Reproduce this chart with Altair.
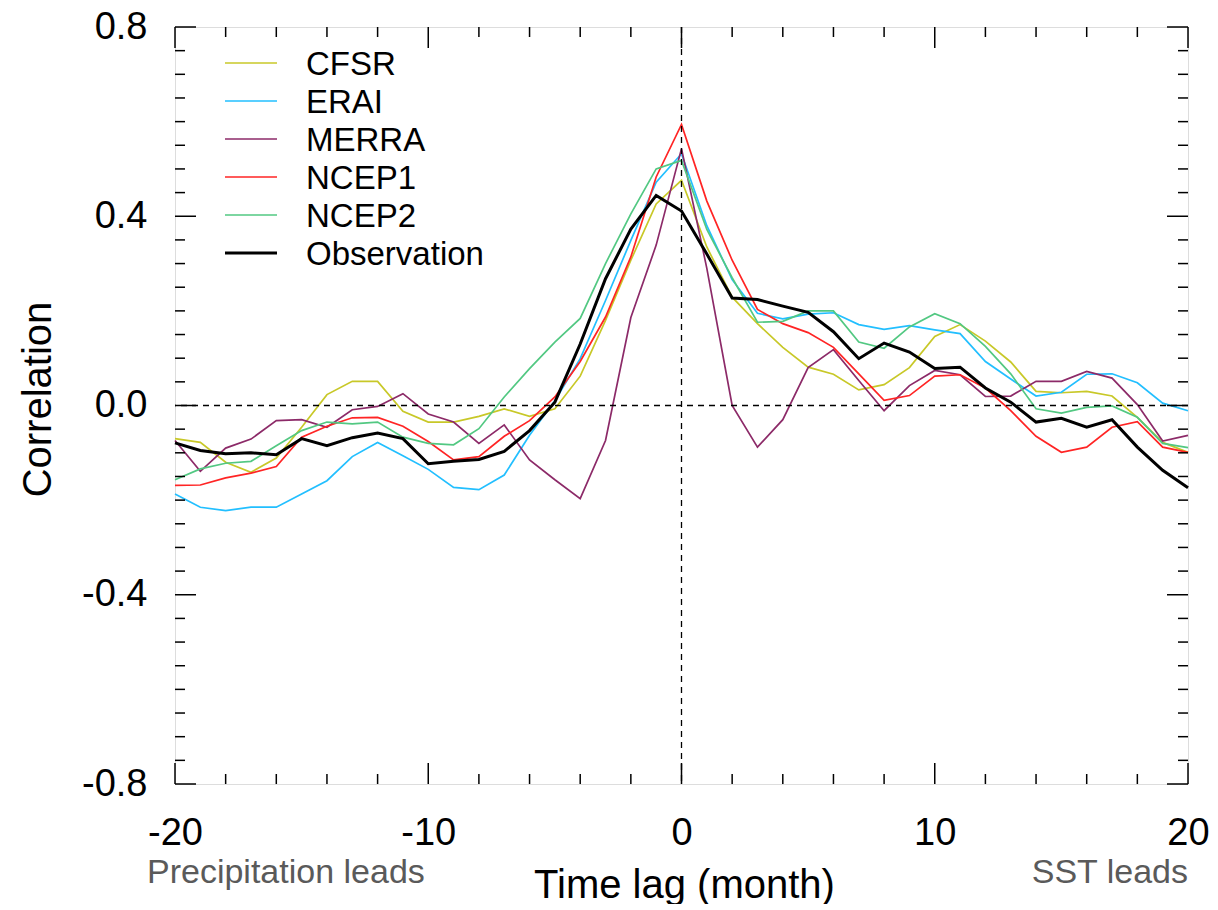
import altair as alt
import pandas as pd

lags = list(range(-20, 21))

cfsr = [-0.070, -0.078, -0.120, -0.141, -0.111, -0.046, 0.023, 0.051, 0.051, -0.012,
        -0.035, -0.035, -0.023, -0.007, -0.023, -0.007, 0.062, 0.180, 0.307, 0.426,
        0.476, 0.335, 0.229, 0.173, 0.123, 0.081, 0.066, 0.033, 0.044, 0.080,
        0.146, 0.171, 0.136, 0.092, 0.030, 0.027, 0.030, 0.020, -0.025, -0.078, -0.099]
erai = [-0.187, -0.215, -0.222, -0.215, -0.215, -0.187, -0.159, -0.108, -0.078, -0.106,
        -0.135, -0.173, -0.178, -0.147, -0.063, 0.010, 0.099, 0.222, 0.349, 0.472,
        0.532, 0.380, 0.266, 0.195, 0.183, 0.193, 0.196, 0.171, 0.161, 0.169,
        0.160, 0.152, 0.093, 0.056, 0.020, 0.028, 0.066, 0.067, 0.048, 0.005, -0.011]
merra = [-0.074, -0.139, -0.090, -0.071, -0.032, -0.030, -0.046, -0.009, -0.002, 0.025,
         -0.018, -0.035, -0.080, -0.041, -0.115, -0.157, -0.197, -0.074, 0.186, 0.339,
         0.543, 0.290, 0.000, -0.088, -0.030, 0.080, 0.118, 0.053, -0.011, 0.042,
         0.074, 0.065, 0.019, 0.020, 0.051, 0.051, 0.072, 0.058, 0.002, -0.075, -0.063]
ncep1 = [-0.169, -0.168, -0.153, -0.143, -0.129, -0.067, -0.044, -0.026, -0.025, -0.044,
         -0.076, -0.115, -0.108, -0.065, -0.032, 0.018, 0.093, 0.187, 0.314, 0.483,
         0.594, 0.432, 0.307, 0.203, 0.173, 0.154, 0.123, 0.067, 0.011, 0.021,
         0.062, 0.065, 0.037, -0.011, -0.065, -0.099, -0.088, -0.046, -0.034, -0.088, -0.099]
ncep2 = [-0.157, -0.134, -0.122, -0.118, -0.085, -0.053, -0.035, -0.039, -0.035, -0.067,
         -0.080, -0.083, -0.049, 0.018, 0.078, 0.134, 0.184, 0.300, 0.405, 0.500,
         0.518, 0.372, 0.270, 0.176, 0.178, 0.200, 0.200, 0.134, 0.121, 0.166,
         0.194, 0.173, 0.125, 0.067, -0.007, -0.016, -0.004, -0.001, -0.025, -0.080, -0.089]
obs = [-0.079, -0.095, -0.102, -0.100, -0.104, -0.070, -0.085, -0.068, -0.058, -0.070,
       -0.123, -0.118, -0.114, -0.097, -0.053, 0.007, 0.130, 0.268, 0.373, 0.444,
       0.411, 0.320, 0.227, 0.224, 0.210, 0.197, 0.156, 0.099, 0.132, 0.113,
       0.078, 0.081, 0.037, 0.007, -0.035, -0.027, -0.046, -0.030, -0.088, -0.137, -0.174]

series_names = ["CFSR", "ERAI", "MERRA", "NCEP1", "NCEP2", "Observation"]
series_colors = ["#c8c828", "#22bfff", "#8c2a68", "#ff2424", "#52c882", "#000000"]

x_major = [-20, -10, 0, 10, 20]
x_minor = [-18, -16, -14, -12, -8, -6, -4, -2, 2, 4, 6, 8, 12, 14, 16, 18]
y_major = [-0.8, -0.4, 0.0, 0.4, 0.8]
y_minor = [-0.75, -0.7, -0.65, -0.6, -0.55, -0.5, -0.45, -0.35, -0.3, -0.25, -0.2, -0.15,
           -0.1, -0.05, 0.05, 0.1, 0.15, 0.2, 0.25, 0.3, 0.35, 0.45, 0.5, 0.55, 0.6,
           0.65, 0.7, 0.75]

rows = []
for name, vals in zip(series_names, [cfsr, erai, merra, ncep1, ncep2, obs]):
    for l, v in zip(lags, vals):
        rows.append({"lag": l, "corr": v, "series": name})
df = pd.DataFrame(rows)

W, H = 1013, 757
FONT = "Liberation Sans"
THIN, THICK = 1.7, 3.0

xs = alt.Scale(domain=[-20, 20], nice=False, zero=False)
ys = alt.Scale(domain=[-0.8, 0.8], nice=False, zero=False)

x_axis = alt.Axis(values=x_major, labelExpr="toString(datum.value)", domain=False, ticks=False,
                  tickSize=0, grid=False, labelFontSize=38, labelFont=FONT, labelColor="black",
                  labelPadding=30, labelFlush=False, labelOverlap=False,
                  title="Time lag (month)", titleFont=FONT, titleFontSize=40,
                  titleFontWeight="normal", titleColor="black", titleX=509, titleY=113,
                  titleBaseline="alphabetic", titleAlign="center")
y_axis = alt.Axis(values=y_major, labelExpr="datum.value == 0 ? '0.0' : toString(datum.value)",
                  domain=False, ticks=False, tickSize=0, grid=False, labelFontSize=38,
                  labelFont=FONT, labelColor="black", labelPadding=28, labelFlush=False,
                  labelOverlap=False, title="Correlation", titleFont=FONT, titleFontSize=40,
                  titleFontWeight="normal", titleColor="black", titleX=-125, titleY=372,
                  titleAngle=-90, titleBaseline="alphabetic", titleAlign="center")

color = alt.Color("series:N", scale=alt.Scale(domain=series_names, range=series_colors), legend=None)
sw_cond = alt.condition(alt.datum.series == "Observation", alt.value(THICK), alt.value(THIN))

X = alt.X("lag:Q", scale=xs, axis=x_axis)
Y = alt.Y("corr:Q", scale=ys, axis=y_axis)

models = alt.Chart(df[df.series != "Observation"]).mark_line(strokeWidth=THIN).encode(
    x=X, y=Y, color=color, detail="series:N")
observ = alt.Chart(df[df.series == "Observation"]).mark_line(strokeWidth=THICK).encode(
    x=X, y=Y, color=color)

zero_df = pd.DataFrame({"v": [0.0]})
hzero = alt.Chart(zero_df).mark_rule(color="black", strokeWidth=1.3, strokeDash=[6, 5]).encode(
    y=alt.Y("v:Q", scale=ys, axis=y_axis))
vzero = alt.Chart(zero_df).mark_rule(color="black", strokeWidth=1.3, strokeDash=[6, 5]).encode(
    x=alt.X("v:Q", scale=xs, axis=x_axis))

MAJ, MIN = 21, 10


def xticks(vals, L):
    base = alt.Chart(pd.DataFrame({"v": vals})).mark_rule(color="black", strokeWidth=1.5).encode(
        x=alt.X("v:Q", scale=xs, axis=x_axis))
    return [base.encode(y=alt.value(H), y2=alt.value(H - L)),
            base.encode(y=alt.value(0), y2=alt.value(L))]


def yticks(vals, L):
    base = alt.Chart(pd.DataFrame({"v": vals})).mark_rule(color="black", strokeWidth=1.5).encode(
        y=alt.Y("v:Q", scale=ys, axis=y_axis))
    return [base.encode(x=alt.value(0), x2=alt.value(L)),
            base.encode(x=alt.value(W), x2=alt.value(W - L))]


tick_layers = xticks(x_major, MAJ) + xticks(x_minor, MIN) + yticks(y_major, MAJ) + yticks(y_minor, MIN)

lead_left = alt.Chart(pd.DataFrame({"t": ["Precipitation leads"]})).mark_text(
    align="left", baseline="alphabetic", fontSize=34, font=FONT, color="#5a5a5a").encode(
    x=alt.value(-28), y=alt.value(856), text="t:N")
lead_right = alt.Chart(pd.DataFrame({"t": ["SST leads"]})).mark_text(
    align="right", baseline="alphabetic", fontSize=34, font=FONT, color="#5a5a5a").encode(
    x=alt.value(W), y=alt.value(856), text="t:N")

main = alt.layer(models, observ, hzero, vzero, *tick_layers, lead_left, lead_right)

leg_df = pd.DataFrame({"series": series_names})
leg_y = alt.Y("series:N", scale=alt.Scale(type="point", domain=series_names, range=[36, 226], padding=0),
              axis=None)
leg_lines = alt.Chart(leg_df).mark_rule().encode(
    x=alt.value(50), x2=alt.value(102), y=leg_y, color=color, strokeWidth=sw_cond)
leg_text = alt.Chart(leg_df).mark_text(align="left", baseline="middle", fontSize=33, font=FONT,
                                       color="black", dy=2).encode(
    x=alt.value(131), y=leg_y, text="series:N")
legend = alt.layer(leg_lines, leg_text)

chart = alt.layer(main, legend).resolve_scale(y="independent").properties(
    width=W, height=H, autosize="none",
    padding={"left": 167, "top": 19, "right": 22, "bottom": 120},
).configure_view(stroke="black", strokeWidth=2).configure(background="white")

chart.save("out.html", embed_options={"renderer": "svg", "actions": False})
